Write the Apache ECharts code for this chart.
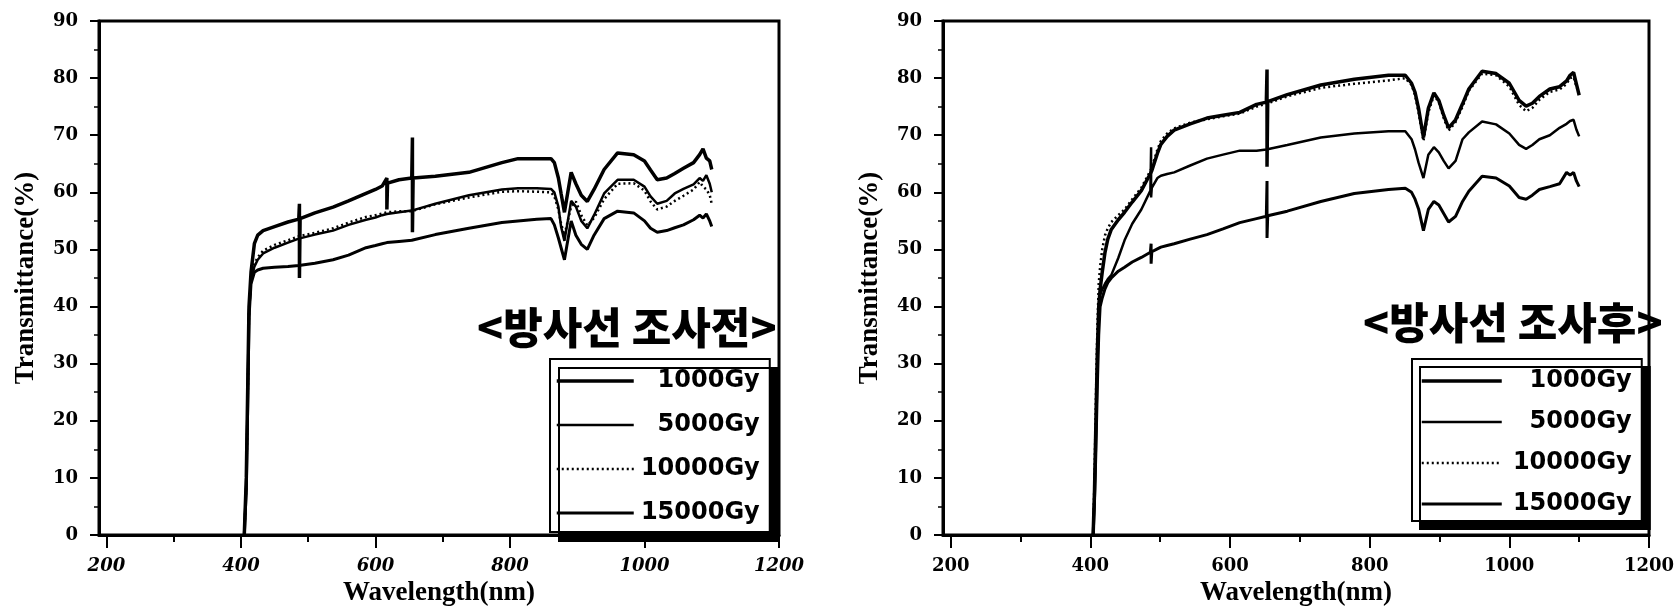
<!DOCTYPE html>
<html>
<head>
<meta charset="utf-8">
<script src="https://cdn.jsdelivr.net/npm/echarts@6/dist/echarts.min.js"></script>
<style>
html,body{margin:0;padding:0;background:#fff;}
#chart{width:1676px;height:609px;}
</style>
</head>
<body>
<div id="chart"></div>
<script>
// ---------- data ----------
const SERIES_NAMES = ['1000Gy', '5000Gy', '10000Gy', '15000Gy'];
const X_TICKS = [200, 400, 600, 800, 1000, 1200];
const X_MINOR = [300, 500, 700, 900, 1100];
const X_MIN = 189, X_MAX = 1200;

// left panel: before irradiation
const L_WL = [405,408,410,412,415,420,425,433,450,470,486,487,487,488,510,537,560,586,600,610,617,617,618,635,654,655,655,656,689,739,788,812,840,861,866,872,876,881,886,891,898,906,915,925,940,960,984,1000,1009,1019,1033,1045,1058,1073,1082,1087,1092,1097,1100];
const L_1000 = [0,10,25,40,46,51,52.5,53.3,54,54.8,55.3,58,45,55.4,56.4,57.4,58.5,59.8,60.5,61.1,62.5,57,61.6,62.2,62.5,69.6,53,62.5,62.8,63.5,65.2,65.9,65.9,65.9,65.2,62.5,59.8,56.5,60,63.5,61.5,59.5,58.4,60.5,64,66.9,66.6,65.5,63.9,62.2,62.5,63.3,64.2,65.2,66.6,67.6,66,65.5,64];
const L_5000 = [0,9,24,39,44.5,47,48.2,49.3,50.3,51.2,51.9,51.9,51.9,52,52.6,53.3,54.3,55.2,55.6,56,56.2,56.2,56.2,56.5,56.8,56.8,56.8,56.8,58,59.5,60.5,60.7,60.7,60.6,60,57.5,54,51.5,55,58.5,57.5,55,53.7,56,59.8,62.2,62.2,61,59.3,58,58.5,59.8,60.6,61.4,62.5,62,63,61.5,60];
const L_10000 = [0,9,23,39,45,47.5,48.6,49.8,50.8,51.6,52.3,52.3,52.3,52.4,52.9,53.7,54.7,55.7,56,56.3,56.5,56.5,56.5,56.7,56.7,56.7,56.7,56.7,57.9,59.1,60.1,60.2,60.1,60,59.3,57,54.5,52.5,55,57.5,58.4,56,54.2,55.5,58.8,61.5,61.6,60.3,58.4,57,57.5,58.5,59.4,60.5,61.8,61,60.5,59.5,58];
const L_15000 = [0,8,22,38,44,46,46.4,46.7,46.9,47,47.2,47.2,47.2,47.2,47.6,48.2,49,50.3,50.7,51,51.2,51.2,51.2,51.4,51.6,51.6,51.6,51.6,52.6,53.7,54.7,55,55.3,55.4,54.3,52,50.3,48.2,51.6,55,52.5,50.9,50,52.5,55.4,56.7,56.4,55,53.7,53,53.3,53.8,54.3,55.2,56,55.5,56.2,55,54];

// right panel: after irradiation
const R_WL = [404,406,408,410,412,414,417,421,425,430,440,449,460,473,486,487,487,488,496,501,510,520,543,567,590,614,638,652,653,653,654,682,730,778,827,851,860,865,870,877,884,892,899,906,913,923,933,942,961,981,1000,1014,1024,1033,1043,1058,1072,1082,1087,1092,1096,1100];
const R_1000 = [0,8,20,32,40,43,46,49.5,51.8,53.5,55.2,56.5,58.3,60.3,63.3,63.6,63.6,63.8,66.8,68.4,69.8,70.9,72,73,73.5,74,75.4,75.8,81.5,64.5,75.9,77.1,78.8,79.8,80.5,80.5,79.1,77.5,74.7,69.6,74.7,77.4,76.1,73.5,71.3,72.7,75.5,78.1,81.2,80.8,79.1,76.1,75.1,75.6,76.8,78.1,78.5,79.5,80.5,81,79,77];
const R_5000 = [0,7,18,30,38,42,43,44,44.8,45.5,48.5,51.6,54.5,57,60.3,67.9,59.1,60.8,62.5,62.9,63.2,63.5,64.7,65.9,66.6,67.3,67.3,67.5,67.5,67.5,67.6,68.3,69.6,70.3,70.7,70.7,69.3,67.5,65.2,62.5,66.6,67.9,67,65.5,64.2,65.5,69.3,70.5,72.4,71.9,70.3,68.3,67.6,68.3,69.3,70,71.3,72,72.5,72.7,71,69.8];
const R_10000 = [0,10,24,36,44,47,50,52.5,53.7,54.8,56,57,58.8,60.8,63.8,64,64,64.3,67.5,69,70.3,71.2,72.2,72.8,73.3,73.8,75,75.5,75.5,75.5,75.6,76.8,78.3,79,79.6,80,78.8,77,74,69,74,77,75.8,73,70.8,72.3,75,77.8,80.8,80.5,78.5,75.3,74.2,74.8,76.2,77.6,78,79,80,80.2,78.5,77.5];
const R_15000 = [0,6,15,26,35,40,41.5,43.1,44.2,45,46.2,46.9,47.8,48.6,49.5,51,47.5,49.6,50.1,50.4,50.7,51,51.8,52.6,53.6,54.7,55.4,55.8,62,52,55.9,56.7,58.4,59.8,60.5,60.7,60,58.8,57.1,53.3,57,58.4,57.8,56.3,54.8,55.8,58.4,60.2,62.8,62.5,61.1,59.1,58.8,59.5,60.5,61,61.5,63.5,63,63.5,62,61];

// ---------- build ----------
const zip = (xs, ys) => xs.map((x, i) => [x, ys[i]]);
const STYLES = {
  '1000Gy':  { width: 3.5, type: 'solid' },
  '5000Gy':  { width: 2.5, type: 'solid' },
  '10000Gy': { width: 2.5, type: [2, 3] },
  '15000Gy': { width: 3,   type: 'solid' }
};
const TICK_FONT = 'DejaVu Serif';
const plain = v => String(v);

function mainX(gridIndex, italic) {
  return {
    type: 'value', gridIndex, min: X_MIN, max: X_MAX, position: 'bottom',
    name: 'Wavelength(nm)', nameLocation: 'middle', nameGap: 39,
    nameTextStyle: { fontFamily: 'Liberation Serif', fontWeight: 'bold', fontSize: 27, color: '#000' },
    axisLine: { show: true, onZero: false, lineStyle: { color: '#000', width: 3 } },
    axisTick: { show: true, inside: false, length: 13, customValues: X_TICKS, lineStyle: { color: '#000', width: 2 } },
    axisLabel: { show: true, margin: 22, customValues: X_TICKS, formatter: plain, fontFamily: TICK_FONT, fontWeight: 'bold',
      fontStyle: italic ? 'italic' : 'normal', fontSize: 18, color: '#000' },
    splitLine: { show: false }
  };
}
function minorX(gridIndex) {
  return {
    type: 'value', gridIndex, min: X_MIN, max: X_MAX, position: 'bottom',
    axisLine: { show: false }, axisLabel: { show: false },
    axisTick: { show: true, length: 7, customValues: X_MINOR, lineStyle: { color: '#000', width: 2 } },
    splitLine: { show: false }
  };
}
function yAx(gridIndex) {
  return {
    type: 'value', gridIndex, min: 0, max: 90, interval: 10,
    name: 'Transmittance(%)', nameLocation: 'middle', nameGap: 59, nameRotate: 90,
    nameTextStyle: { fontFamily: 'Liberation Serif', fontWeight: 'bold', fontSize: 27, color: '#000' },
    axisLine: { show: true, onZero: false, lineStyle: { color: '#000', width: 3 } },
    axisTick: { show: true, length: 9, lineStyle: { color: '#000', width: 2 } },
    minorTick: { show: true, splitNumber: 2, length: 5, lineStyle: { color: '#000', width: 1.5 } },
    axisLabel: { margin: 21, formatter: plain, fontFamily: TICK_FONT, fontWeight: 'bold', fontSize: 18, color: '#000' },
    splitLine: { show: false }, minorSplitLine: { show: false }
  };
}
function lineSeries(name, xs, ys, xi, yi) {
  const s = STYLES[name];
  return {
    type: 'line', name, xAxisIndex: xi, yAxisIndex: yi, data: zip(xs, ys),
    symbol: 'none', showSymbol: false, animation: false, silent: true,
    lineStyle: { color: '#000', width: s.width, type: s.type },
    itemStyle: { color: '#000' }
  };
}
function legendBox(left, top, padding, iconW, gap, textW, shadow) {
  return {
    orient: 'vertical', left, top, padding, itemWidth: iconW, itemHeight: 26, itemGap: gap,
    data: SERIES_NAMES.map(n => ({ name: n, lineStyle: { width: STYLES[n].width, type: STYLES[n].type, color: '#000' } })),
    selectedMode: false,
    backgroundColor: '#fff', borderColor: '#000', borderWidth: 2, borderRadius: 0,
    shadowColor: '#000', shadowOffsetX: shadow, shadowOffsetY: shadow, shadowBlur: 0,
    itemStyle: { opacity: 0, color: 'transparent', borderColor: 'transparent', borderWidth: 0 },
    lineStyle: { width: 'inherit', type: 'inherit', color: 'inherit', opacity: 1 },
    formatter: '{n|{name}}',
    textStyle: { color: '#000', fontFamily: 'DejaVu Sans', fontWeight: 'bold', fontSize: 24,
      rich: { n: { width: textW, align: 'right', fontFamily: 'DejaVu Sans', fontWeight: 'bold', fontSize: 24, color: '#000' } } }
  };
}
const gridBase = { show: true, borderColor: '#000', borderWidth: 3, backgroundColor: 'transparent',
  containLabel: false, outerBoundsMode: 'none' };
const TITLE_STYLE = { fontFamily: 'Noto Sans CJK KR', fontWeight: 900, fontSize: 43, color: '#000' };

const option = {
  backgroundColor: '#fff',
  animation: false,
  title: [
    { text: '<방사선 조사전>', left: 477, top: 306, padding: 0, textStyle: TITLE_STYLE },
    { text: '<방사선 조사후>', left: 1363, top: 301, padding: 0, textStyle: TITLE_STYLE }
  ],
  grid: [
    Object.assign({ left: 99, right: 897, top: 21, bottom: 74 }, gridBase),
    Object.assign({ left: 943, right: 27, top: 21, bottom: 74 }, gridBase)
  ],
  xAxis: [mainX(0, true), minorX(0), mainX(1, false), minorX(1)],
  yAxis: [yAx(0), yAx(1)],
  legend: [
    legendBox(550, 359, [10, 10, 7, 5], 77, 20, 121, 9),
    legendBox(1412, 359, [10, 10, 5, 8], 80, 17, 125, 8)
  ],
  series: [
    lineSeries('1000Gy', L_WL, L_1000, 0, 0),
    lineSeries('5000Gy', L_WL, L_5000, 0, 0),
    lineSeries('10000Gy', L_WL, L_10000, 0, 0),
    lineSeries('15000Gy', L_WL, L_15000, 0, 0),
    lineSeries('1000Gy', R_WL, R_1000, 2, 1),
    lineSeries('5000Gy', R_WL, R_5000, 2, 1),
    lineSeries('10000Gy', R_WL, R_10000, 2, 1),
    lineSeries('15000Gy', R_WL, R_15000, 2, 1)
  ]
};
const chart = echarts.init(document.getElementById('chart'), null, { renderer: 'canvas' });
chart.setOption(option);
</script>
</body>
</html>
